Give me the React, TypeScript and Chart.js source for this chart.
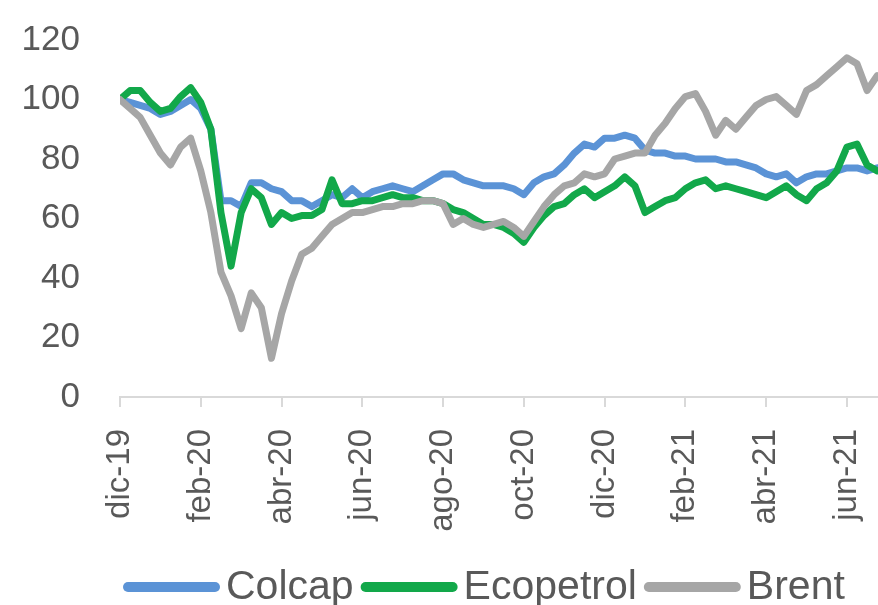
import { useEffect, useRef } from "react";
import { Chart, registerables } from "chart.js";

Chart.register(...registerables);

// x axis: months since dic-19, one sample every quarter month
const TICK_LABELS = ["dic-19", "feb-20", "abr-20", "jun-20", "ago-20", "oct-20", "dic-20", "feb-21", "abr-21", "jun-21"];
const STEP_MONTHS = 0.25;
const SERIES_NAMES = ["Colcap", "Ecopetrol", "Brent"];
const SERIES_COLORS = ["#5b93d6", "#12a84a", "#a6a6a6"];

const COLCAP = [
  100, 99, 98, 97, 95, 96, 98, 100, 97, 90,
  66, 66, 64, 72, 72, 70, 69, 66, 66, 64,
  66, 68, 67, 70, 67, 69, 70, 71, 70, 69,
  71, 73, 75, 75, 73, 72, 71, 71, 71, 70,
  68, 72, 74, 75, 78, 82, 85, 84, 87, 87,
  88, 87, 83, 82, 82, 81, 81, 80, 80, 80,
  79, 79, 78, 77, 75, 74, 75, 72, 74, 75,
  75, 76, 77, 77, 76, 77,
];

const ECOPETROL = [
  100, 103, 103, 99, 96, 97, 101, 104, 99, 90,
  62, 44, 62, 70, 67, 58, 62, 60, 61, 61,
  63, 73, 65, 65, 66, 66, 67, 68, 67, 67,
  66, 66, 65, 63, 62, 60, 58, 58, 57, 55,
  52, 57, 61, 64, 65, 68, 70, 67, 69, 71,
  74, 71, 62, 64, 66, 67, 70, 72, 73, 70,
  71, 70, 69, 68, 67, 69, 71, 68, 66, 70,
  72, 76, 84, 85, 78, 76,
];

const BRENT = [
  100, 97, 94, 88, 82, 78, 84, 87, 76, 62,
  42, 34, 23, 35, 30, 13, 28, 39, 48, 50,
  54, 58, 60, 62, 62, 63, 64, 64, 65, 65,
  66, 66, 65, 58, 60, 58, 57, 58, 59, 57,
  54, 59, 64, 68, 71, 72, 75, 74, 75, 80,
  81, 82, 82, 88, 92, 97, 101, 102, 96, 88,
  93, 90, 94, 98, 100, 101, 98, 95, 103, 105,
  108, 111, 114, 112, 103, 108,
];

const SERIES_VALUES = [COLCAP, ECOPETROL, BRENT];

const toPoints = (vals: number[]) => vals.map((y, i) => ({ x: i * STEP_MONTHS, y }));

const FONT_FAMILY = "'Liberation Sans', Arial, Helvetica, sans-serif";
const TEXT_COLOR = "#595959";

const bottomLegend = {
  id: "bottomLegend",
  afterDraw(chart: any) {
    const ctx = chart.ctx as CanvasRenderingContext2D;
    ctx.save();
    ctx.font = `41px ${FONT_FAMILY}`;
    ctx.textBaseline = "alphabetic";
    ctx.textAlign = "left";
    let x = 123;
    const lineY = 587;
    const textY = 599;
    chart.data.datasets.forEach((ds: any) => {
      ctx.strokeStyle = ds.borderColor;
      ctx.lineWidth = 10;
      ctx.lineCap = "round";
      ctx.beginPath();
      ctx.moveTo(x + 5, lineY);
      ctx.lineTo(x + 92, lineY);
      ctx.stroke();
      x += 97 + 6;
      ctx.fillStyle = TEXT_COLOR;
      ctx.fillText(ds.label, x, textY);
      x += ctx.measureText(ds.label).width + 7;
    });
    ctx.restore();
  },
};

export default function App() {
  const canvasRef = useRef<HTMLCanvasElement | null>(null);

  useEffect(() => {
    if (!canvasRef.current) return;
    Chart.defaults.font.family = FONT_FAMILY;
    const chart = new Chart(canvasRef.current, {
      type: "line",
      data: {
        datasets: SERIES_NAMES.map((name, i) => ({
          label: name,
          data: toPoints(SERIES_VALUES[i]),
          borderColor: SERIES_COLORS[i],
          backgroundColor: SERIES_COLORS[i],
          borderWidth: 7,
          pointRadius: 0,
          tension: 0,
          borderJoinStyle: "round" as const,
          borderCapStyle: "round" as const,
          order: 3 - i,
        })),
      },
      options: {
        animation: false,
        responsive: false,
        layout: { padding: { left: 19, right: 0, top: 40, bottom: 58 } },
        plugins: {
          legend: { display: false },
          tooltip: { enabled: false },
        },
        scales: {
          x: {
            type: "linear",
            min: 0,
            max: 18.77,
            afterFit: (s: any) => {
              s.height = 150;
              s.paddingLeft = 0;
              s.paddingRight = 0;
            },
            grid: {
              drawOnChartArea: false,
              drawTicks: true,
              tickLength: 10,
              color: "#d9d9d9",
              lineWidth: 2,
            },
            border: { display: true, color: "#d9d9d9", width: 2 },
            ticks: {
              stepSize: 2,
              includeBounds: false,
              autoSkip: false,
              maxRotation: 90,
              minRotation: 90,
              padding: 22,
              color: TEXT_COLOR,
              font: { size: 33 },
              callback: (v: any) => TICK_LABELS[Math.round(Number(v) / 2)] ?? "",
            },
          },
          y: {
            min: 0,
            max: 120,
            afterFit: (s: any) => {
              s.width = 101;
              s.paddingTop = 0;
              s.paddingBottom = 0;
            },
            grid: { display: false, drawTicks: false },
            border: { display: false },
            ticks: {
              stepSize: 20,
              padding: 40,
              color: TEXT_COLOR,
              font: { size: 35 },
            },
          },
        },
      },
      plugins: [bottomLegend],
    });
    return () => chart.destroy();
  }, []);

  return (
    <div style={{ position: "fixed", left: 0, top: 0, width: 878, height: 605, background: "#fff" }}>
      <canvas ref={canvasRef} width={878} height={605} style={{ width: 878, height: 605 }} />
    </div>
  );
}
